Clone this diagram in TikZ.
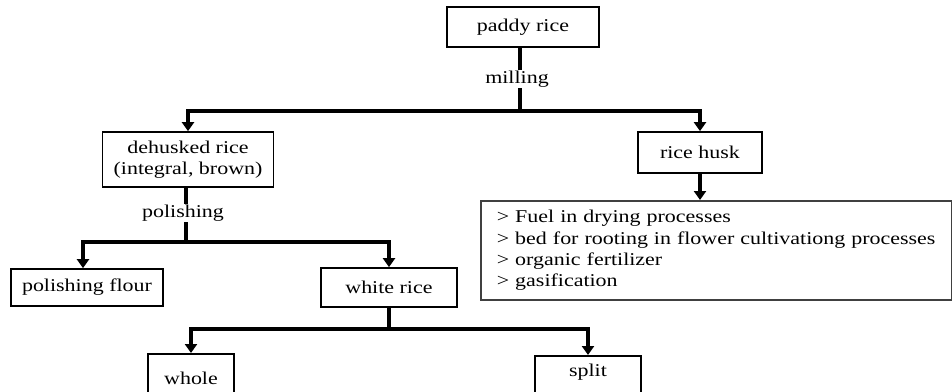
\documentclass[tikz,border=0pt]{standalone}
\usepackage{fontspec}
\setmainfont{Liberation Serif}[FakeStretch=1.22]
\usetikzlibrary{arrows.meta}
\begin{document}
\begin{tikzpicture}[x=1pt,y=-1pt,
  box/.style={draw=black,line width=1.7pt,rectangle,inner sep=0pt,align=center,
    font=\fontsize{18}{21.3}\selectfont},
  lbl/.style={inner sep=1pt,font=\fontsize{18}{21.3}\selectfont},
  conn/.style={line width=3.6pt},
  arr/.style={line width=3.6pt,-{Triangle[length=9pt,width=12pt]}}]
\useasboundingbox (0,0) rectangle (952,391);
\clip (0,0) rectangle (952,391);
\fill[white] (0,0) rectangle (952,391);
% boxes
\node[box,minimum width=152pt,minimum height=40pt] (paddy) at (523,27) {paddy rice};
\node[lbl] (milling) at (517,79) {milling};
\node[box,minimum width=171pt,minimum height=55pt] (dehusked) at (188,159.5) {dehusked rice\\(integral, brown)};
\node[box,minimum width=124pt,minimum height=41pt] (husk) at (700,152.5) {rice husk};
\node[box,draw=black!75,anchor=north west,minimum width=471pt,minimum height=99pt,
  text width=439pt,align=left] (uses) at (480,200)
  {> Fuel in drying processes\\> bed for rooting in flower cultivationg processes\\> organic fertilizer\\> gasification};
\node[lbl] (polishing) at (183,213) {polishing};
\node[box,minimum width=152pt,minimum height=37pt] (flour) at (87,287.5) {polishing flour};
\node[box,minimum width=136pt,minimum height=39pt] (white) at (389,287.5) {white rice};
\node[box,minimum width=86pt,minimum height=60pt,anchor=north] (whole) at (191,353) {};
\node[lbl] at (191,378) {whole};
\node[box,minimum width=106pt,minimum height=60pt,anchor=north] (split) at (588,355) {};
\node[lbl] at (588,372) {split};
% junctions
\coordinate (j1) at (520,111);
\coordinate (j2) at (186,242);
\coordinate (j3) at (389,329);
% connectors
\draw[conn] (paddy.south -| j1) -- (milling.north -| j1);
\draw[conn] (milling.south -| j1) -- (j1);
\draw[arr] (j1) -| (dehusked.north);
\draw[arr] (j1) -| (husk.north);
\draw[arr] (husk.south) -- (uses.north -| husk.south);
\draw[conn] (dehusked.south -| j2) -- (polishing.north -| j2);
\draw[conn] (polishing.south -| j2) -- (j2);
\draw[arr] (j2) -| (flour.north -| 83,0);
\draw[arr] (j2) -| (white.north);
\draw[conn] (white.south) -- (j3);
\draw[arr] (j3) -| (whole.north);
\draw[arr] (j3) -| (split.north);
\end{tikzpicture}
\end{document}
